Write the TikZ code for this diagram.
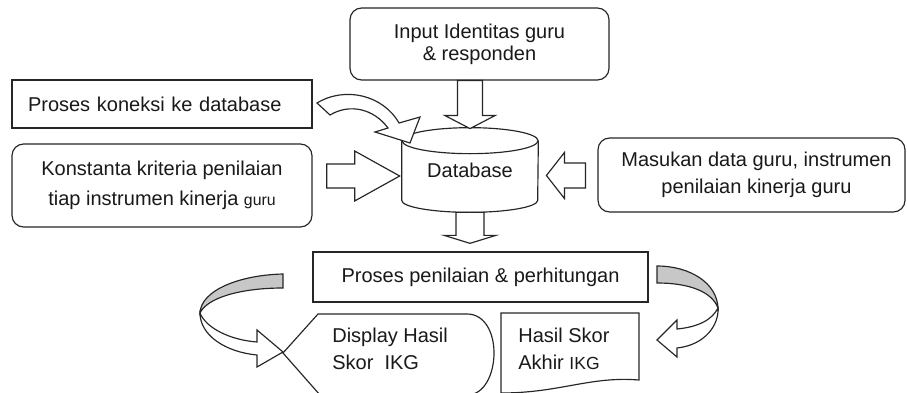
\documentclass[tikz,border=0pt]{standalone}
\usepackage{fontspec}
\setmainfont{Liberation Sans}
\usetikzlibrary{calc}

% blokpijl: {start}{hoek}{lengte}{halve schachtbreedte}{halve kopbreedte}{koplengte}
\newcommand{\blokpijl}[6]{%
  \draw[blok, shift={(#1)}, rotate=#2] (0,-#4) -- ({#3-#6},-#4) -- ({#3-#6},-#5) -- (#3,0)
    -- ({#3-#6},#5) -- ({#3-#6},#4) -- (0,#4) -- cycle;}

\begin{document}
\begin{tikzpicture}[x=0.6pt, y=-0.6pt,
    lijn/.style={draw=black!85, line width=0.7pt},
    tekst/.style={inner sep=0pt, text=black!90, font=\fontsize{12}{16.2}\selectfont},
    kader/.style={lijn, tekst, rectangle, fill=white, align=center},
    rond/.style={kader, rounded corners=7pt},
    blok/.style={lijn, fill=white, line join=miter},
    lint/.style={lijn, fill=black!22}]

    \useasboundingbox (0,0) rectangle (907,393);
    \clip (0,0) rectangle (907,393);

    % De tekstvakken
    \node[rond, minimum width=155.4pt, minimum height=43.2pt, font=\fontsize{12}{13.2}\selectfont] (input) at (479.5,44) {Input Identitas guru\\ \& responden};
    \node[kader, minimum width=180pt, minimum height=28.8pt, text width=160.8pt, align=left, inner xsep=9.6pt] (koneksi) at (162,104) {Proses koneksi ke database};
    \node[rond, minimum width=180pt, minimum height=49.8pt, font=\fontsize{12}{18}\selectfont] (konstanta) at (162,185.5) {Konstanta kriteria penilaian\\ tiap instrumen kinerja {\fontsize{9.5}{18}\selectfont guru}};
    \node[rond, minimum width=184.2pt, minimum height=44.4pt] (masukan) at (751.5,175) {\hspace*{6pt}Masukan data guru, instrumen\\ \hspace*{6pt}penilaian kinerja guru};
    \node[tekst, minimum width=81.6pt, minimum height=50.4pt] (db) at (470,170) {Database};
    \node[kader, minimum width=201pt, minimum height=30pt] (proses) at (480.5,277) {Proses penilaian \& perhitungan};

    % De database als cilinder
    \draw[lijn] ($(db.north)+(0,13)$) ellipse [x radius=68, y radius=13];
    \draw[lijn] ($(db.north west)+(0,13)$) -- ($(db.south west)+(0,-12)$)
        arc [start angle=180, end angle=0, x radius=68, y radius=12] -- ($(db.north east)+(0,13)$);

    % Display- en documentvorm onderaan
    \draw[lijn] (283,353) -- (318,314) -- (467,314) .. controls (485,314) and (494,333) .. (494,353)
        .. controls (494,373) and (485,395) .. (467,395) -- (320,395) -- cycle;
    \draw[lijn] (501,313) -- (639,313) -- (639,380) .. controls (590,376) and (560,393) .. (501,393) -- cycle;
    \node[tekst, anchor=west, align=left] (display) at (332,348.5) {Display Hasil\\ Skor\ \ IKG};
    \node[tekst, anchor=west, align=left] (skor) at (518,348.5) {Hasil Skor\\ Akhir {\fontsize{10.5}{16.2}\selectfont IKG}};

    % Rechte blokpijlen naar en van de database
    \blokpijl{db.north |- input.south}{-90}{48}{12.5}{25}{13}
    \blokpijl{db.south}{-90}{31}{14}{26}{8}
    \blokpijl{$(db.west)+(-75,6)$}{0}{73}{12}{25}{45}
    \blokpijl{$(masukan.west)+(-12,0.5)$}{180}{39}{12.5}{23}{18}

    % Gebogen pijl van de koneksi naar de database
    \draw[blok] (317,103) .. controls (345,86) and (383,95) .. (399,123) -- (420,117) -- (410,143)
        -- (375,132) -- (388,128) .. controls (374,109) and (350,103) .. (330,115) -- cycle;

    % Gedraaide pijl links (naar display)
    \draw[lint] (283,274) .. controls (240,275) and (201,290) .. (200,313)
        .. controls (207,298) and (240,288) .. (283,288) -- cycle;
    \draw[blok] (200,313) .. controls (206,328) and (230,340) .. (257,342) -- (257,330) -- (283,352)
        -- (257,367) -- (257,355) .. controls (225,352) and (200,335) .. (200,313) -- cycle;

    % Gedraaide pijl rechts (naar skor)
    \draw[lint] (657,266) .. controls (690,266) and (717,283) .. (718,308)
        .. controls (712,292) and (690,283) .. (657,283) -- cycle;
    \draw[blok] (718,308) .. controls (712,320) and (698,327) .. (677,329) -- (677,320) -- (657,340)
        -- (677,357) -- (677,348) .. controls (705,345) and (719,325) .. (718,308) -- cycle;

\end{tikzpicture}
\end{document}
